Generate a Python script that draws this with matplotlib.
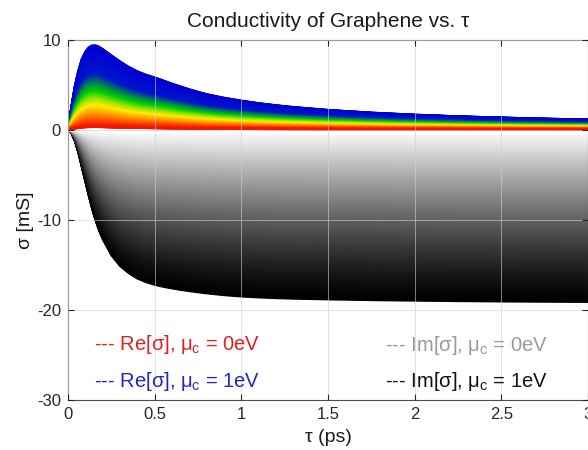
import numpy as np
import matplotlib.pyplot as plt
from matplotlib.colors import LinearSegmentedColormap

plt.rcParams['font.family'] = ['Liberation Sans', 'DejaVu Sans']
plt.rcParams['mathtext.fontset'] = 'custom'
plt.rcParams['mathtext.rm'] = 'Liberation Sans'
plt.rcParams['mathtext.it'] = 'Liberation Sans'
plt.rcParams['axes.unicode_minus'] = False

# outer curves (mu_c = 1 eV)
tau_ps = [0, 0.02, 0.04, 0.06, 0.08, 0.10, 0.12, 0.14, 0.16, 0.18, 0.20, 0.25,
          0.30, 0.35, 0.40, 0.45, 0.50, 0.55, 0.60, 0.65, 0.70, 0.75, 0.80, 0.90,
          1.00, 1.10, 1.20, 1.30, 1.50, 1.75, 2.00, 2.25, 2.50, 2.75, 3.00]
re_sigma_1ev = [0, 2.6, 4.9, 6.6, 7.9, 8.7, 9.2, 9.4, 9.4, 9.25, 9.0, 8.3,
                7.62, 7.02, 6.52, 6.14, 5.84, 5.5, 5.15, 4.83, 4.52, 4.24, 3.98, 3.58,
                3.26, 2.98, 2.75, 2.55, 2.23, 1.93, 1.70, 1.52, 1.38, 1.26, 1.16]
im_sigma_1ev = [0, -0.31, -1.2, -2.5, -4.1, -5.7, -7.3, -8.8, -10.1, -11.2, -12.1, -13.9,
                -15.1, -15.9, -16.5, -16.9, -17.2, -17.42, -17.6, -17.76, -17.9, -18.03,
                -18.15, -18.35, -18.5, -18.6, -18.68, -18.74, -18.82, -18.9, -18.96,
                -19.01, -19.05, -19.08, -19.1]

# chemical potential sweep, 0 .. 1 eV
mu_c_ev = np.linspace(0, 1, 241)
kT_ev = 0.0259

legend_re = [r'--- Re[σ], μ$_\mathrm{c}$ = 0eV', r'--- Re[σ], μ$_\mathrm{c}$ = 1eV']
legend_im = [r'--- Im[σ], μ$_\mathrm{c}$ = 0eV', r'--- Im[σ], μ$_\mathrm{c}$ = 1eV']

re_cmap = LinearSegmentedColormap.from_list('re', [
    (0.00, (0.90, 0.00, 0.00)),
    (0.08, (1.00, 0.20, 0.00)),
    (0.16, (1.00, 0.50, 0.00)),
    (0.28, (1.00, 0.93, 0.00)),
    (0.36, (0.60, 0.90, 0.00)),
    (0.45, (0.00, 0.82, 0.00)),
    (0.55, (0.00, 0.50, 0.35)),
    (0.66, (0.00, 0.08, 0.80)),
    (1.00, (0.00, 0.00, 0.82)),
])

# Drude weight relative to mu_c = 1 eV
weight = np.log(2 * np.cosh(mu_c_ev / (2 * kT_ev)))
weight = weight / weight[-1]

tau = np.array(tau_ps)
re1 = np.array(re_sigma_1ev)
im1 = np.array(im_sigma_1ev)

fig = plt.figure(figsize=(5.88, 4.5), dpi=100)
ax = fig.add_axes([68 / 588, 50 / 450, 520 / 588, 360 / 450])

for w in weight[::-1]:
    g = (1 - w) ** 1.3
    ax.plot(tau, im1 * w, color=(g, g, g), lw=1.5, zorder=1)
for w in weight[::-1]:
    ax.plot(tau, re1 * w, color=re_cmap(w), lw=1.5, zorder=2)

ax.set_xlim(0, 3)
ax.set_ylim(-30, 10)
ax.set_xticks([0, 0.5, 1, 1.5, 2, 2.5, 3])
ax.set_xticklabels(['0', '0.5', '1', '1.5', '2', '2.5', '3'])
ax.set_yticks([-30, -20, -10, 0, 10])
ax.grid(True, color='#d0d0d0', lw=0.7, alpha=0.6, zorder=3)
ax.set_axisbelow(False)
ax.tick_params(direction='in', top=True, right=True, length=4, labelsize=12,
               colors='#262626', pad=5)
for s in ax.spines.values():
    s.set_color('#4d4d4d')
    s.set_linewidth(0.8)

ax.set_title('Conductivity of Graphene vs. τ', fontsize=15, color='#1a1a1a', pad=9)
ax.set_xlabel('τ (ps)', fontsize=14, color='#1a1a1a', labelpad=5)
ax.set_ylabel('σ [mS]', fontsize=14, color='#1a1a1a', labelpad=2)

ax.text(0.15, -24.5, legend_re[0], color='#e61e1e', fontsize=14.5)
ax.text(0.15, -28.56, legend_re[1], color='#2323cc', fontsize=14.5)
ax.text(2.77, -24.6, legend_im[0], color='#9a9a9a', fontsize=14.5, ha='right')
ax.text(2.77, -28.6, legend_im[1], color='#111111', fontsize=14.5, ha='right')

fig.savefig('out.png', dpi=100)
